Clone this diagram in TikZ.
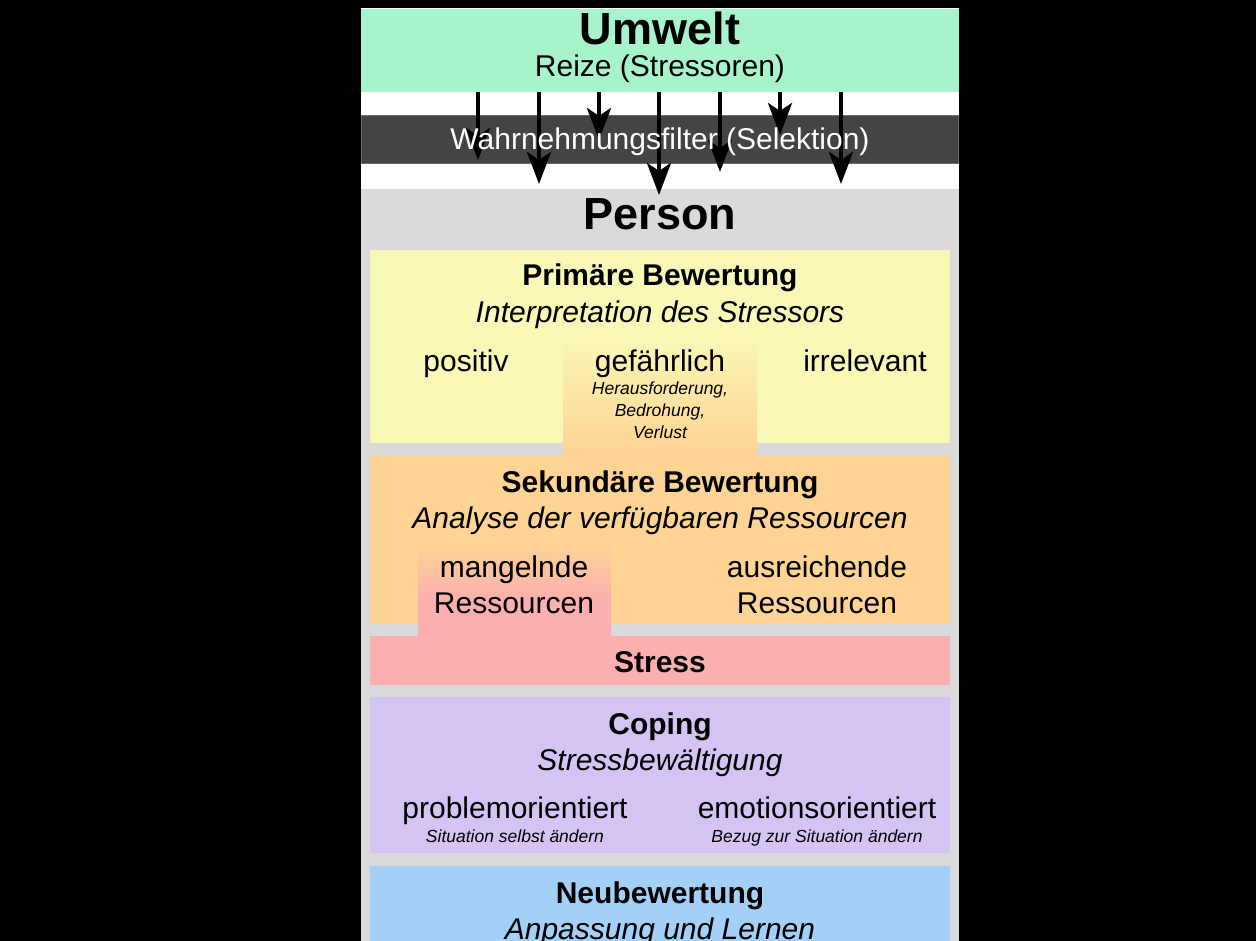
\documentclass[tikz,border=0pt]{standalone}
\usepackage{fontspec}
\setmainfont{Liberation Sans}
\usetikzlibrary{arrows.meta}
\definecolor{umweltgreen}{HTML}{A7F3CC}
\definecolor{filtergray}{HTML}{444444}
\definecolor{filterline}{HTML}{6A6A6A}
\definecolor{persongray}{HTML}{DADADA}
\definecolor{primyellow}{HTML}{FAF8B7}
\definecolor{sekorange}{HTML}{FDD494}
\definecolor{stresspink}{HTML}{FBAFAF}
\definecolor{copingpurple}{HTML}{D3C4F4}
\definecolor{neublue}{HTML}{A4CFF6}
\tikzset{
  box/.style={rectangle, inner sep=0pt, outer sep=0pt, draw=none},
  big/.style={anchor=base, font=\fontsize{45}{54}\selectfont\bfseries},
  head/.style={anchor=base, font=\fontsize{30}{36}\selectfont\bfseries},
  sub/.style={anchor=base, font=\fontsize{30}{36}\selectfont\itshape},
  reg/.style={anchor=base, font=\fontsize{30}{36}\selectfont},
  small/.style={anchor=base, font=\fontsize{17.5}{22}\selectfont\itshape},
  stim/.style={line width=4.5pt, -{Stealth[length=32pt, width=24pt, inset=8pt]}}
}
\begin{document}
\begin{tikzpicture}[x=1pt, y=-1pt]
\useasboundingbox (0,0) rectangle (1256,941);
\fill[black] (0,0) rectangle (1256,941);
% panel
\fill[white] (361,8) rectangle (959,189);
\node[box, fill=persongray, minimum width=598pt, minimum height=752pt] (person) at (660,565) {};
\node[box, fill=umweltgreen, minimum width=598pt, minimum height=83pt] (umwelt) at (660,50.5) {};
\node[box, fill=filtergray, draw=filterline, line width=1pt, minimum width=597pt, minimum height=48pt] (filter) at (660,140) {};
% boxes
\node[box, fill=primyellow, minimum width=580pt, minimum height=193pt] (prim) at (660,346.5) {};
\node[box, fill=sekorange, minimum width=580pt, minimum height=168pt] (sek) at (660,540) {};
\shade[top color=primyellow, bottom color=sekorange] (563,336) rectangle (757,450);
\fill[sekorange] (563,449) rectangle (757,457);
\node[box, fill=stresspink, minimum width=580pt, minimum height=49pt] (stress) at (660,660.5) {};
\shade[top color=sekorange, bottom color=stresspink] (418,543) rectangle (611,600);
\fill[stresspink] (418,599) rectangle (611,637);
\node[box, fill=copingpurple, minimum width=580pt, minimum height=156pt] (coping) at (660,775) {};
\node[box, fill=neublue, minimum width=580pt, minimum height=90pt] (neu) at (660,911) {};
% arrows
\coordinate (t1) at (478,160);
\coordinate (t2) at (539,184);
\coordinate (t3) at (599,140);
\coordinate (t4) at (659,195);
\coordinate (t5) at (720,172);
\coordinate (t6) at (780,135);
\coordinate (t7) at (841,184);
\foreach \t in {t1,t2,t3,t4,t5,t6,t7}
  \draw[stim] (umwelt.south -| \t) -- (\t);
% texts
\node[big] (umweltT) at (660,45) {Umwelt};
\node[reg] (reize) at (660,77) {Reize (Stressoren)};
\node[reg, text=white] (filterT) at (660,150) {Wahrnehmungsfilter (Selektion)};
\node[big] (personT) at (660,230) {Person};
\node[head] (primT) at (660,286) {Primäre Bewertung};
\node[sub] (primS) at (660,323) {Interpretation des Stressors};
\node[reg] (positiv) at (466,371) {positiv};
\node[reg] (gef) at (660,371) {gefährlich};
\node[reg] (irr) at (865,371) {irrelevant};
\node[small] (gef1) at (660,394) {Herausforderung,};
\node[small] (gef2) at (660,416) {Bedrohung,};
\node[small] (gef3) at (660,438) {Verlust};
\node[head] (sekT) at (660,492) {Sekundäre Bewertung};
\node[sub] (sekS) at (660,528) {Analyse der verfügbaren Ressourcen};
\node[reg] (mang1) at (514,577) {mangelnde};
\node[reg] (mang2) at (514,613) {Ressourcen};
\node[reg] (aus1) at (817,577) {ausreichende};
\node[reg] (aus2) at (817,613) {Ressourcen};
\node[head] (stressT) at (660,672) {Stress};
\node[head] (copT) at (660,734) {Coping};
\node[sub] (copS) at (660,770) {Stressbewältigung};
\node[reg] (prob) at (515,818) {problemorientiert};
\node[reg] (emo) at (817,818) {emotionsorientiert};
\node[small] (probS) at (515,842) {Situation selbst ändern};
\node[small] (emoS) at (817,842) {Bezug zur Situation ändern};
\node[head] (neuT) at (660,903) {Neubewertung};
\node[sub] (neuS) at (660,939) {Anpassung und Lernen};
\end{tikzpicture}
\end{document}
